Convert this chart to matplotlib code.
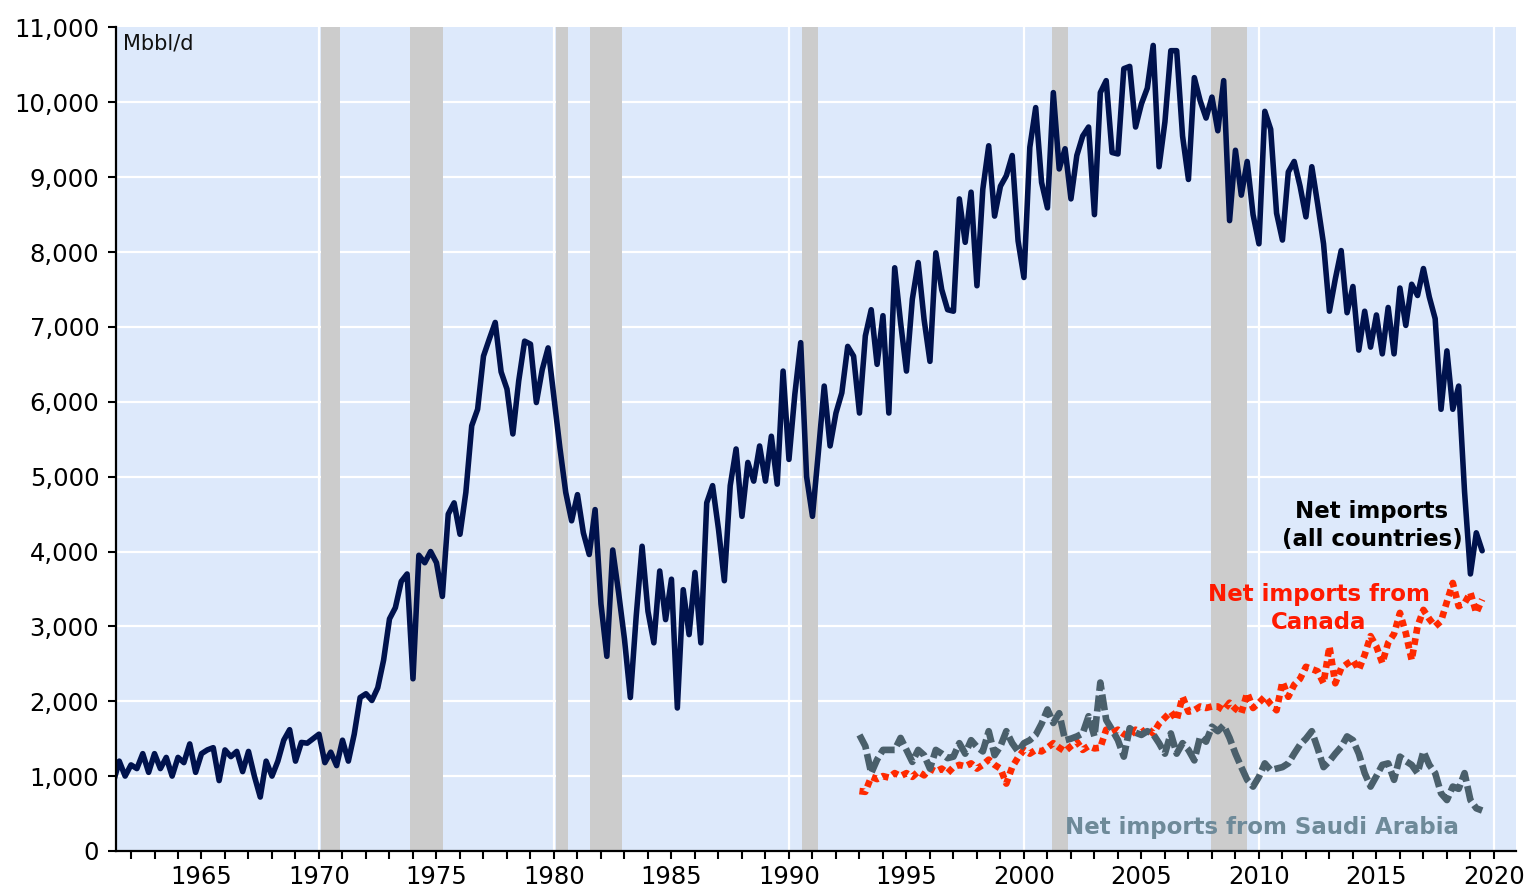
import numpy as np
import matplotlib
matplotlib.use("Agg")
import matplotlib.pyplot as plt
from matplotlib.ticker import FuncFormatter, MultipleLocator

plt.rcParams["font.family"] = ["DejaVu Sans"]

# ---- data (Mbbl/d), quarterly readings ----
TOTAL_START = 1961.25
total = [
    920, 1200, 1000, 1150, 1100, 1300, 1050, 1300, 1100, 1250, 1000, 1250,
    1180, 1430, 1050, 1300, 1350, 1380, 940, 1350, 1260, 1330, 1060, 1330,
    1000, 720, 1200, 1000, 1200, 1480, 1620, 1200, 1450, 1440, 1500, 1560,
    1180, 1320, 1140, 1480, 1200, 1560, 2050, 2100, 2010, 2180, 2550, 3100,
    3250, 3600, 3700, 2300, 3950, 3850, 4000, 3850, 3400, 4500, 4650, 4230,
    4790, 5680, 5900, 6610, 6840, 7060, 6400, 6170, 5570, 6280, 6810, 6770,
    5990, 6430, 6720, 6050, 5390, 4790, 4410, 4760, 4250, 3960, 4560, 3300,
    2600, 4020, 3450, 2830, 2050, 3140, 4070, 3200, 2780, 3740, 3090, 3630,
    1910, 3490, 2890, 3720, 2780, 4650, 4880, 4300, 3610, 4880, 5370, 4470,
    5190, 4940, 5410, 4940, 5540, 4900, 6410, 5230, 6100, 6790, 5000, 4470,
    5320, 6210, 5410, 5850, 6120, 6740, 6610, 5850, 6880, 7230, 6500, 7150,
    5850, 7790, 7060, 6410, 7370, 7860, 7100, 6540, 7990, 7500, 7230, 7210,
    8710, 8130, 8800, 7550, 8840, 9420, 8480, 8880, 9020, 9290, 8150, 7660,
    9400, 9930, 8930, 8590, 10130, 9110, 9380, 8710, 9290, 9550, 9670, 8500,
    10130, 10290, 9330, 9310, 10450, 10480, 9670, 9980, 10190, 10760, 9140, 9740,
    10690, 10690, 9550, 8970, 10330, 10020, 9790, 10070, 9620, 10290, 8420, 9360,
    8760, 9210, 8500, 8110, 9880, 9640, 8520, 8160, 9070, 9210, 8880, 8470,
    9140, 8640, 8110, 7210, 7640, 8020, 7190, 7540, 6690, 7210, 6730, 7160,
    6640, 7260, 6640, 7520, 7020, 7570, 7420, 7780, 7400, 7110, 5900, 6680,
    5900, 6210, 4800, 3700, 4250, 4010,
]

SUB_START = 1993.0
canada = [
    800, 790, 990, 960, 1000, 980, 1040, 1000, 1040, 990, 1060, 1010,
    1100, 1060, 1100, 1040, 1120, 1150, 1130, 1170, 1100, 1150, 1220, 1150,
    1100, 900, 1120, 1250, 1350, 1300, 1350, 1330, 1380, 1440, 1380, 1330,
    1400, 1460, 1350, 1400, 1370, 1380, 1620, 1580, 1620, 1560, 1530, 1620,
    1580, 1640, 1570, 1700, 1780, 1860, 1750, 2060, 1860, 1880, 1930, 1910,
    1930, 1930, 1880, 1980, 1900, 1840, 2110, 1910, 1980, 2060, 1960, 1880,
    2260, 2060, 2220, 2300, 2460, 2430, 2400, 2240, 2730, 2240, 2440, 2500,
    2550, 2420, 2620, 2870, 2730, 2510, 2780, 2900, 3180, 2910, 2550, 3000,
    3220, 3100, 3000, 3070, 3330, 3580, 3270, 3310, 3450, 3180, 3360,
]
saudi = [
    1550, 1400, 1040, 1220, 1350, 1350, 1350, 1510, 1350, 1190, 1350, 1280,
    1100, 1350, 1300, 1240, 1260, 1440, 1300, 1480, 1390, 1330, 1600, 1280,
    1400, 1600, 1440, 1330, 1440, 1480, 1550, 1700, 1890, 1710, 1840, 1480,
    1500, 1530, 1570, 1800, 1530, 2250, 1750, 1620, 1480, 1260, 1640, 1580,
    1550, 1600, 1560, 1440, 1300, 1570, 1300, 1440, 1350, 1210, 1530, 1460,
    1660, 1600, 1680, 1510, 1300, 1120, 950, 860, 990, 1170, 1080, 1100,
    1120, 1170, 1300, 1420, 1500, 1600, 1370, 1120, 1200, 1300, 1390, 1530,
    1480, 1300, 1040, 860, 1000, 1150, 1170, 950, 1260, 1200, 1150, 1040,
    1330, 1150, 1040, 770, 680, 860, 830, 1040, 680, 570, 540,
]

recessions = [(1970.08, 1970.9), (1973.87, 1975.28), (1980.09, 1980.6),
              (1981.53, 1982.9), (1990.55, 1991.23), (2001.19, 2001.87),
              (2007.96, 2009.49)]

t_total = TOTAL_START + 0.25 * np.arange(len(total))
t_sub = SUB_START + 0.25 * np.arange(len(canada))

fig = plt.figure(figsize=(15.38, 8.92), dpi=100)
ax = fig.add_axes([0.0754, 0.046, 0.9103, 0.9232])
ax.set_facecolor("#dde9fb")

for yv in range(1000, 11000, 1000):
    ax.axhline(yv, color="white", lw=1.6, zorder=1)
for xv in range(1970, 2021, 10):
    ax.axvline(xv, color="white", lw=1.6, zorder=1)
for a, b in recessions:
    ax.axvspan(a, b, color="#cccccc", lw=0, zorder=2)

ax.plot(t_total, total, color="#00124d", lw=4.0, zorder=4,
        solid_joinstyle="round", solid_capstyle="round")
ax.plot(t_sub, canada, color="#ff2a00", lw=4.8, zorder=5,
        dashes=(1.0, 0.7), dash_capstyle="butt")
ax.plot(t_sub, saudi, color="#4a5f6b", lw=4.8, zorder=6,
        dashes=(2.4, 0.7), dash_capstyle="butt")

ax.set_xlim(1961.36, 2020.94)
ax.set_ylim(0, 11000)
ax.xaxis.set_major_locator(MultipleLocator(5))
ax.xaxis.set_minor_locator(MultipleLocator(1))
ax.yaxis.set_major_locator(MultipleLocator(1000))
ax.yaxis.set_major_formatter(FuncFormatter(lambda v, p: f"{int(v):,}"))
ax.xaxis.set_major_formatter(FuncFormatter(lambda v, p: f"{int(v)}"))
ax.tick_params(axis="both", which="both", direction="out", length=6,
               width=1.5, labelsize=17.5, colors="black")
ax.tick_params(axis="x", pad=4)
ax.tick_params(axis="y", pad=6)
for s in ["top", "right"]:
    ax.spines[s].set_visible(False)
for s in ["left", "bottom"]:
    ax.spines[s].set_linewidth(1.6)
    ax.spines[s].set_zorder(7)

ax.text(0.005, 0.993, "Mbbl/d", transform=ax.transAxes, ha="left", va="top",
        fontsize=15, color="#111111")
ax.text(2014.81, 4350, "Net imports\n(all countries)", ha="center", va="center",
        fontsize=16.5, fontweight="bold", color="black", linespacing=1.25, zorder=8)
ax.text(2012.55, 3240, "Net imports from\nCanada", ha="center", va="center",
        fontsize=16.5, fontweight="bold", color="#ff1a00", linespacing=1.25, zorder=8)
ax.text(2010.13, 317, "Net imports from Saudi Arabia", ha="center", va="center",
        fontsize=16.5, fontweight="bold", color="#6e8a99", zorder=8)

fig.savefig("out.png", dpi=100)
